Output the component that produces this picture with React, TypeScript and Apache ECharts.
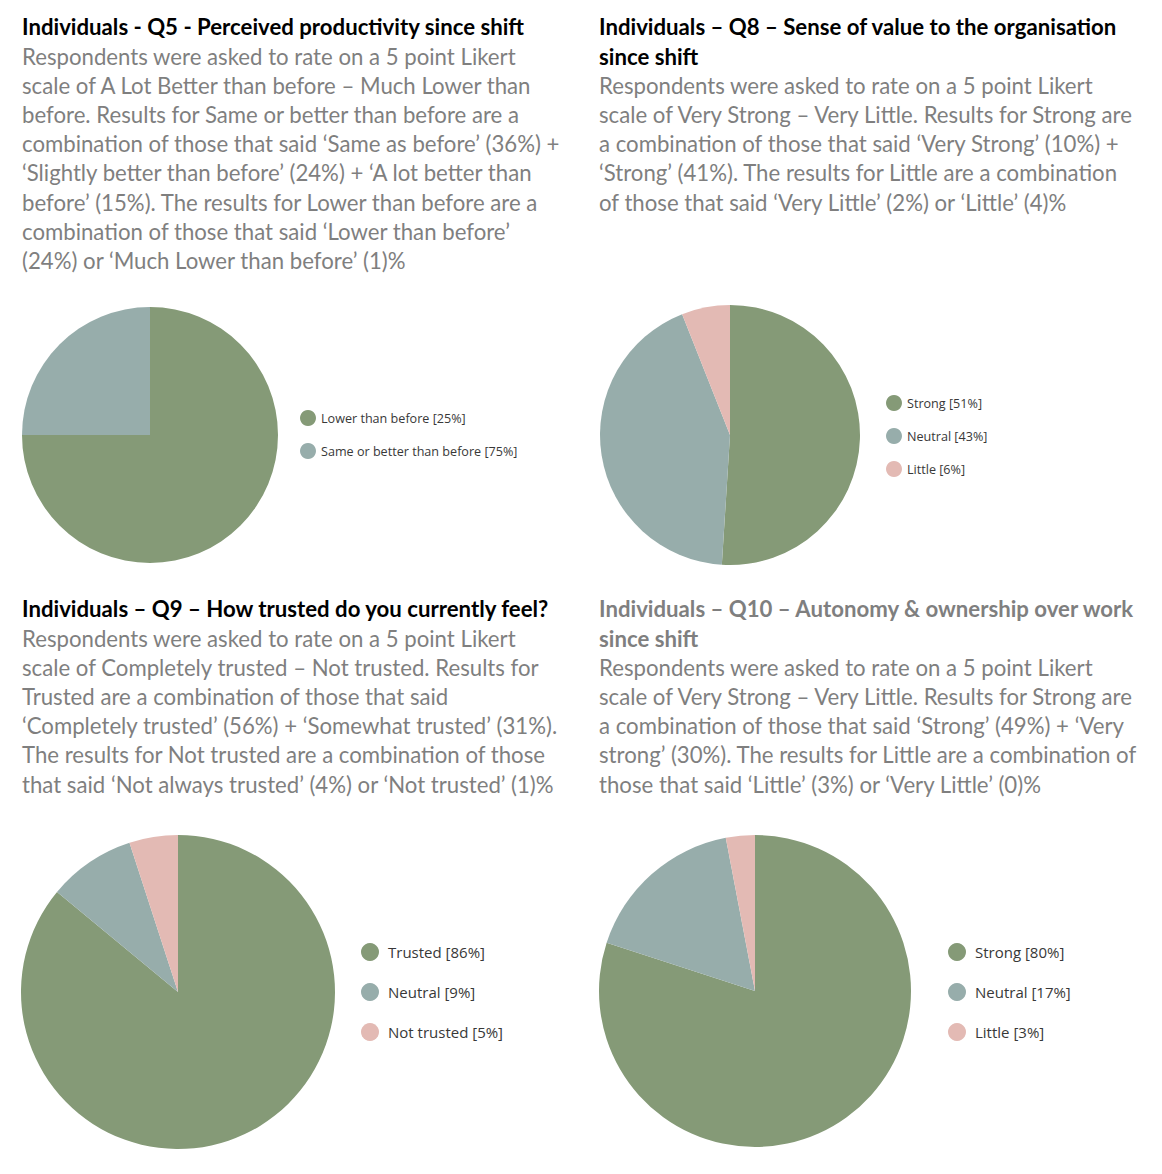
import React, { useEffect, useRef } from "react";
import * as echarts from "echarts";

const GREEN = "#859a77";
const BLUE = "#97adab";
const PINK = "#e3bab4";

// Q5
const q5Names = ["Same or better than before", "Lower than before"];
const q5Values = [75, 25];
const q5LegendNames = ["Lower than before [25%]", "Same or better than before [75%]"];
// Q8
const q8Names = ["Strong [51%]", "Neutral [43%]", "Little [6%]"];
const q8Values = [51, 43, 6];
// Q9
const q9Names = ["Trusted [86%]", "Neutral [9%]", "Not trusted [5%]"];
const q9Values = [86, 9, 5];
// Q10
const q10Names = ["Strong [80%]", "Neutral [17%]", "Little [3%]"];
const q10Values = [80, 17, 3];

const q5Title = ["Individuals - Q5 - Perceived productivity since shift"];
const q5Body = [
  "Respondents were asked to rate on a 5 point Likert",
  "scale of A Lot Better than before – Much Lower than",
  "before. Results for Same or better than before are a",
  "combination of those that said ‘Same as before’ (36%) +",
  "‘Slightly better than before’ (24%) + ‘A lot better than",
  "before’ (15%). The results for Lower than before are a",
  "combination of those that said ‘Lower than before’",
  "(24%) or ‘Much Lower than before’ (1)%",
];
const q8Title = ["Individuals – Q8 – Sense of value to the organisation", "since shift"];
const q8Body = [
  "Respondents were asked to rate on a 5 point Likert",
  "scale of Very Strong – Very Little. Results for Strong are",
  "a combination of those that said ‘Very Strong’ (10%) +",
  "‘Strong’ (41%). The results for Little are a combination",
  "of those that said ‘Very Little’ (2%) or ‘Little’ (4)%",
];
const q9Title = ["Individuals – Q9 – How trusted do you currently feel?"];
const q9Body = [
  "Respondents were asked to rate on a 5 point Likert",
  "scale of Completely trusted – Not trusted. Results for",
  "Trusted are a combination of those that said",
  "‘Completely trusted’ (56%) + ‘Somewhat trusted’ (31%).",
  "The results for Not trusted are a combination of those",
  "that said ‘Not always trusted’ (4%) or ‘Not trusted’ (1)%",
];
const q10Title = ["Individuals – Q10 – Autonomy & ownership over work", "since shift"];
const q10Body = [
  "Respondents were asked to rate on a 5 point Likert",
  "scale of Very Strong – Very Little. Results for Strong are",
  "a combination of those that said ‘Strong’ (49%) + ‘Very",
  "strong’ (30%). The results for Little are a combination of",
  "those that said ‘Little’ (3%) or ‘Very Little’ (0)%",
];

const FONT = "Lato";
const LH = 29.2;
const FS = 22.2;

function textBlock(x: number, y: number, title: string[], body: string[], titleColor: string) {
  const els: any[] = [];
  title.forEach((t, i) => {
    els.push({
      type: "text",
      left: x,
      top: y + i * LH - FS / 2,
      style: { text: t, fill: titleColor, font: `bold ${FS}px ${FONT}` },
    });
  });
  body.forEach((t, i) => {
    els.push({
      type: "text",
      left: x,
      top: y + (title.length + i) * LH - FS / 2,
      style: { text: t, fill: "#7f7f7f", font: `${FS}px ${FONT}` },
    });
  });
  return els;
}

export default function App() {
  const ref = useRef<HTMLDivElement>(null);
  useEffect(() => {
    const chart = echarts.init(ref.current!, null, { renderer: "svg" });
    const pie = (cx: number, cy: number, r: number, names: string[], values: number[], colors: string[]) => ({
      type: "pie",
      center: [cx, cy],
      radius: r,
      startAngle: 90,
      clockwise: true,
      label: { show: false },
      labelLine: { show: false },
      emphasis: { disabled: true },
      itemStyle: { borderWidth: 0 },
      data: names.map((n, i) => ({ name: n, value: values[i], itemStyle: { color: colors[i] } })),
    });
    const legendStyle = (fs: number) => ({
      color: "#383838",
      fontSize: fs,
      fontFamily: "Open Sans",
    });
    chart.setOption({
      animation: false,
      backgroundColor: "#ffffff",
      legend: [
        {
          left: 295,
          top: 405,
          orient: "vertical",
          icon: "circle",
          itemWidth: 16,
          itemHeight: 16,
          itemGap: 17,
          selectedMode: false,
          textStyle: legendStyle(12.6),
          data: [
            { name: q5LegendNames[0], itemStyle: { color: GREEN } },
            { name: q5LegendNames[1], itemStyle: { color: BLUE } },
          ],
        },
        {
          left: 881,
          top: 390,
          orient: "vertical",
          icon: "circle",
          itemWidth: 16,
          itemHeight: 16,
          itemGap: 17,
          selectedMode: false,
          textStyle: legendStyle(12.6),
          data: q8Names,
        },
        {
          left: 356,
          top: 938,
          orient: "vertical",
          icon: "circle",
          itemWidth: 18,
          itemHeight: 18,
          itemGap: 22,
          selectedMode: false,
          textStyle: { ...legendStyle(15), padding: [0, 0, 0, 4] },
          data: q9Names,
        },
        {
          left: 943,
          top: 938,
          orient: "vertical",
          icon: "circle",
          itemWidth: 18,
          itemHeight: 18,
          itemGap: 22,
          selectedMode: false,
          textStyle: { ...legendStyle(15), padding: [0, 0, 0, 4] },
          data: q10Names,
        },
      ],
      series: [
        {
          ...pie(150, 435, 128, [...q5LegendNames].reverse(), q5Values, [GREEN, BLUE]),
          data: q5Names.map((n, i) => ({
            name: q5LegendNames[1 - i],
            value: q5Values[i],
            itemStyle: { color: i === 0 ? GREEN : BLUE },
          })),
        },
        pie(730, 435, 130, q8Names, q8Values, [GREEN, BLUE, PINK]),
        pie(178, 992, 157, q9Names, q9Values, [GREEN, BLUE, PINK]),
        pie(755, 991, 156, q10Names, q10Values, [GREEN, BLUE, PINK]),
      ],
      graphic: [
        ...textBlock(22, 27, q5Title, q5Body, "#000000"),
        ...textBlock(599, 27, q8Title, q8Body, "#000000"),
        ...textBlock(22, 609, q9Title, q9Body, "#000000"),
        ...textBlock(599, 609, q10Title, q10Body, "#7f7f7f"),
      ],
    });
    return () => chart.dispose();
  }, []);
  return (
    <div
      ref={ref}
      style={{ position: "fixed", left: 0, top: 0, width: 1162, height: 1174, background: "#fff" }}
    />
  );
}
